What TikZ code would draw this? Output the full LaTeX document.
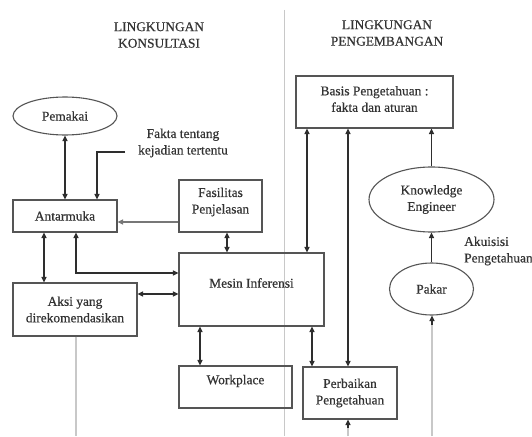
\documentclass[tikz,border=0pt]{standalone}
\usepackage{fontspec}
\setmainfont{Liberation Serif}[FakeBold=0.5]
\newfontfamily\tmsfont{Liberation Serif}[FakeBold=0.5]
\usetikzlibrary{arrows.meta,shapes.geometric}
\definecolor{txt}{HTML}{333333}
\definecolor{edge}{HTML}{555555}
\definecolor{ln}{HTML}{2E2E2E}
\definecolor{faint}{HTML}{C8C8C8}
\tikzset{
  box/.style={draw=edge, line width=1.1pt, rectangle, inner sep=0pt, align=center, text=txt},
  oval/.style={draw=edge, line width=1.1pt, ellipse, inner sep=0pt, align=center, text=txt},
  lbl/.style={text=txt, align=center, inner sep=0pt},
  tip/.tip={Triangle[length=5.5pt,width=5pt]},
  arr/.style={draw=ln, line width=1.1pt, -tip},
  dbl/.style={draw=ln, line width=1.1pt, tip-tip},
  faintline/.style={draw=faint, line width=1.3pt},
}
\begin{document}
\begin{tikzpicture}[x=1pt,y=-1pt,font=\tmsfont\fontsize{13.4}{16.5}\selectfont]
\useasboundingbox[fill=white] (0,0) rectangle (532,436);
% divider
\coordinate (divtop) at (284.5,10);
\coordinate (divbot) at (284.5,436);
\draw[faintline] (divtop) -- (divbot);
% titles
\node[lbl] (t1) at (159,35) {LINGKUNGAN\\KONSULTASI};
\node[lbl] (t2) at (387,33) {LINGKUNGAN\\PENGEMBANGAN};
% nodes
\node[oval, minimum width=104, minimum height=38] (pemakai) at (65,116) {Pemakai};
\node[box, minimum width=104, minimum height=32] (antarmuka) at (65,216) {Antarmuka};
\node[box, minimum width=124, minimum height=53] (aksi) at (75,309.5) {Aksi yang\\direkomendasikan};
\node[box, minimum width=83, minimum height=52] (fasilitas) at (220.5,206) {};
\node[lbl] (fasilitaslbl) at (220.5,202) {Fasilitas\\Penjelasan};
\node[box, minimum width=145, minimum height=73] (mesin) at (251.5,289.5) {};
\node[lbl] (mesinlbl) at (251.5,283) {Mesin Inferensi};
\node[box, minimum width=113, minimum height=42] (workplace) at (235.5,387) {};
\node[lbl] (workplacelbl) at (235.5,381) {Workplace};
\node[box, minimum width=94, minimum height=52] (perbaikan) at (350,393) {Perbaikan\\Pengetahuan};
\node[box, minimum width=157, minimum height=52] (basis) at (374.5,102) {};
\node[lbl] (basislbl) at (374.5,99) {Basis Pengetahuan :\\fakta dan aturan};
\node[oval, minimum width=125, minimum height=65] (ke) at (431.5,199.5) {Knowledge\\Engineer};
\node[oval, minimum width=84, minimum height=52] (pakar) at (431.5,289) {Pakar};
\node[lbl, anchor=west, align=left] (akuisisi) at (464,251) {Akuisisi\\Pengetahuan};
\node[lbl] (fakta) at (183,143) {Fakta tentang\\kejadian tertentu};
% helper coordinates
\coordinate (faktaend) at (125,152);
\coordinate (fx) at (97,152);
\coordinate (y222) at (0,222);
\coordinate (x227) at (227,0);
\coordinate (x76) at (76,0);
\coordinate (y273) at (0,273);
\coordinate (x44) at (44,0);
\coordinate (y294) at (0,294);
\coordinate (x200) at (200,0);
\coordinate (x312) at (312,0);
\coordinate (x307) at (307,0);
\coordinate (x348) at (348,0);
\coordinate (aksifoot) at (76,436);
\coordinate (perbsrc) at (348,436);
\coordinate (pakarsrc) at (432,436);
\coordinate (pakarnear) at (432,325);
\coordinate (perbnear) at (348,428);
% connectors
\draw[dbl] (pemakai.south) -- (antarmuka.north);
\draw[arr] (faktaend) -- (fx) -- (fx |- antarmuka.north);
\draw[arr, draw=edge!80] (fasilitas.west |- y222) -- (antarmuka.east |- y222);
\draw[dbl] (x227 |- fasilitas.south) -- (x227 |- mesin.north);
\draw[dbl] (x76 |- antarmuka.south) -- (x76 |- y273) -- (mesin.west |- y273);
\draw[dbl] (x44 |- antarmuka.south) -- (x44 |- aksi.north);
\draw[dbl] (aksi.east |- y294) -- (mesin.west |- y294);
\draw[dbl] (x200 |- mesin.south) -- (x200 |- workplace.north);
\draw[dbl] (x312 |- mesin.south) -- (x312 |- perbaikan.north);
\draw[dbl] (x307 |- basis.south) -- (x307 |- mesin.north);
\draw[dbl] (x348 |- basis.south) -- (x348 |- perbaikan.north);
\draw[arr] (ke.north) -- (ke.north |- basis.south);
\draw[arr] (pakar.north) -- (ke.south);
\draw[faintline] (x76 |- aksi.south) -- (aksifoot);
\draw[faintline] (pakarsrc) -- (pakarnear);
\draw[arr] (pakarnear) -- (pakarsrc |- pakar.south);
\draw[faintline] (perbsrc) -- (perbnear);
\draw[arr] (perbnear) -- (perbsrc |- perbaikan.south);
\end{tikzpicture}
\end{document}
